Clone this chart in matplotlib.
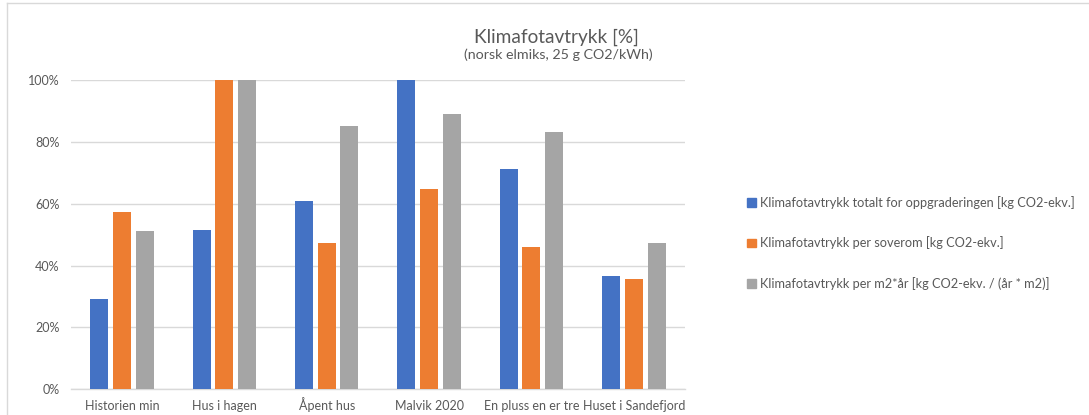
import numpy as np
import matplotlib
matplotlib.use("Agg")
import matplotlib.pyplot as plt
from matplotlib.lines import Line2D
from matplotlib.ticker import PercentFormatter

plt.rcParams["font.family"] = ["Lato", "DejaVu Sans"]

# ── Data ──────────────────────────────────────────────────────────────────────
categories = ["Historien min", "Hus i hagen", "Åpent hus", "Malvik 2020",
              "En pluss en er tre", "Huset i Sandefjord"]
totalt = [29.3, 51.4, 60.8, 100.0, 71.2, 36.7]
per_soverom = [57.2, 100.0, 47.3, 64.8, 46.0, 35.8]
per_m2_aar = [51.1, 100.0, 85.3, 88.9, 83.3, 47.3]

series_labels = [
    "Klimafotavtrykk totalt for oppgraderingen [kg CO2-ekv.]",
    "Klimafotavtrykk per soverom [kg CO2-ekv.]",
    "Klimafotavtrykk per m2*år [kg CO2-ekv. / (år * m2)]",
]
colors = ["#4472c4", "#ed7d31", "#a5a5a5"]
TEXT = "#595959"
GRID = "#d9d9d9"

# ── Figure ────────────────────────────────────────────────────────────────────
fig = plt.figure(figsize=(10.89, 4.15), dpi=100)
ax = fig.add_axes([0.0649, 0.062, 0.5641, 0.745])

x = np.arange(len(categories))
width = 0.176
step = 0.222
for i, (vals, col) in enumerate(zip([totalt, per_soverom, per_m2_aar], colors)):
    ax.bar(x + (i - 1) * step, vals, width, color=col, zorder=3,
           label=series_labels[i])

ax.set_xlim(-0.5, len(categories) - 0.5)
ax.set_ylim(0, 100)
ax.set_yticks(np.arange(0, 101, 20))
ax.yaxis.set_major_formatter(PercentFormatter(decimals=0))
ax.set_xticks(x)
ax.set_xticklabels(categories)
ax.grid(axis="y", color=GRID, linewidth=1.0, zorder=0)
for s in ["top", "right", "left"]:
    ax.spines[s].set_visible(False)
ax.spines["bottom"].set_color(GRID)
ax.spines["bottom"].set_linewidth(1.0)
ax.tick_params(axis="both", length=0, labelsize=9, colors=TEXT)
ax.tick_params(axis="y", pad=8)
ax.tick_params(axis="x", pad=15)
# align category labels on their baseline so "Å" doesn't push one down
for lbl in ax.get_xticklabels():
    lbl.set_verticalalignment("baseline")

# ── Titles ────────────────────────────────────────────────────────────────────
fig.text(556 / 1089, 1 - 37 / 415, "Klimafotavtrykk [%]", ha="center",
         va="center", fontsize=13.7, color=TEXT)
fig.text(558 / 1089, 1 - 55 / 415, "(norsk elmiks, 25 g CO2/kWh)",
         ha="center", va="center", fontsize=10.3, color=TEXT)

# ── Legend ────────────────────────────────────────────────────────────────────
handles = [plt.Rectangle((0, 0), 1, 1, color=c) for c in colors]
fig.legend(handles, series_labels, loc="center left",
           bbox_to_anchor=(741 / 1089, 1 - 243 / 415), frameon=False,
           fontsize=9.2, labelcolor=TEXT, handlelength=0.65, handleheight=0.65,
           handletextpad=0.3, labelspacing=2.15, borderpad=0)

# ── Chart border (top and left edges) ─────────────────────────────────────────
fig.add_artist(Line2D([6.5 / 1089, 1], [1 - 3.5 / 415, 1 - 3.5 / 415],
                      color=GRID, lw=1.0, transform=fig.transFigure))
fig.add_artist(Line2D([6.5 / 1089, 6.5 / 1089], [0, 1 - 3.5 / 415],
                      color=GRID, lw=1.0, transform=fig.transFigure))

fig.savefig("out.png", dpi=100, facecolor="white")
